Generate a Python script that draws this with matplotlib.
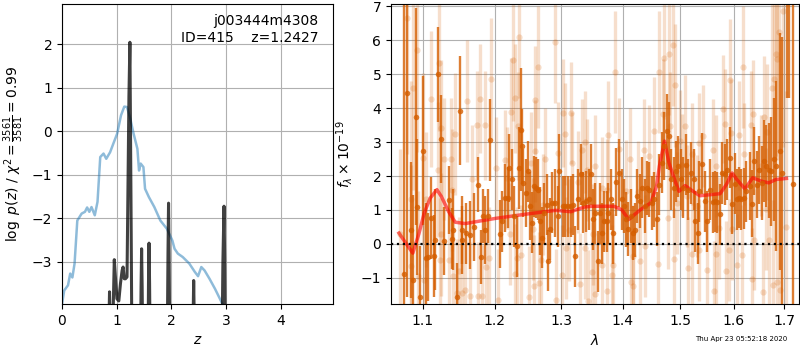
import numpy as np
import matplotlib
matplotlib.use("Agg")
import matplotlib.pyplot as plt

# ---------------- left panel: redshift PDF ----------------
chi2_z = [0.00, 0.04, 0.11, 0.15, 0.19, 0.23, 0.28, 0.36, 0.42, 0.46, 0.50, 0.54, 0.60, 0.65,
          0.70, 0.76, 0.81, 0.88, 0.94, 1.01, 1.08, 1.14, 1.19, 1.25, 1.31, 1.38, 1.41, 1.44,
          1.49, 1.52, 1.59, 1.69, 1.80, 1.92, 2.02, 2.06, 2.12, 2.21, 2.33, 2.43, 2.49, 2.55,
          2.61, 2.70, 2.80, 2.89, 2.94, 3.00]
chi2_logp = [-3.98, -3.66, -3.54, -3.27, -3.36, -3.04, -2.05, -1.89, -1.85, -1.75, -1.85, -1.74,
             -1.93, -1.62, -0.59, -0.51, -0.63, -0.48, -0.28, -0.05, 0.37, 0.57, 0.56, 0.29,
             -0.05, -0.40, -0.90, -0.74, -0.82, -1.32, -1.51, -1.74, -2.05, -2.24, -2.51, -2.70,
             -2.81, -2.89, -3.04, -3.23, -3.33, -3.12, -3.20, -3.39, -3.62, -3.85, -3.98, -4.4]

pdf_z = [0.85, 0.862, 0.870, 0.878, 0.89, 0.93, 0.957, 0.98, 1.005, 1.04, 1.07, 1.10, 1.118,
         1.14, 1.161, 1.19, 1.21, 1.225, 1.2427, 1.262, 1.285,
         1.43, 1.447, 1.457, 1.467, 1.485,
         1.57, 1.583, 1.593, 1.603, 1.62,
         1.92, 1.94, 1.95, 1.96, 1.98,
         2.39, 2.402, 2.41, 2.418, 2.43,
         2.92, 2.945, 2.965, 2.978, 2.995]
pdf_logp = [-6.0, -4.2, -3.69, -4.2, -6.0, -4.5, -2.95, -3.4, -3.85, -3.9, -3.5, -3.2, -3.12,
            -3.39, -3.39, -3.35, -1.0, 0.8, 2.05, -1.5, -6.0,
            -6.0, -3.6, -2.70, -3.6, -6.0,
            -6.0, -3.5, -2.57, -3.5, -6.0,
            -6.0, -2.8, -1.65, -2.8, -6.0,
            -6.0, -4.1, -3.43, -4.1, -6.0,
            -6.0, -3.0, -1.72, -3.0, -6.0]

# ---------------- right panel: spectrum ----------------
dark_wave = [1.076, 1.080, 1.084, 1.087, 1.091, 1.093, 1.097, 1.101, 1.104, 1.107, 1.111, 1.115,
             1.117, 1.121, 1.124, 1.129, 1.135, 1.140, 1.141, 1.146, 1.150, 1.153, 1.154, 1.159,
             1.165, 1.170, 1.176, 1.180, 1.183, 1.186, 1.190, 1.193, 1.207, 1.211, 1.214, 1.219,
             1.221, 1.225, 1.228, 1.232, 1.235, 1.238, 1.240, 1.242, 1.246, 1.249, 1.252, 1.255,
             1.258, 1.261, 1.264, 1.267, 1.270, 1.273, 1.277, 1.280, 1.283, 1.286, 1.290, 1.294,
             1.297, 1.302, 1.306, 1.311, 1.315, 1.319, 1.322, 1.326, 1.331, 1.335, 1.339, 1.344,
             1.347, 1.351, 1.354, 1.358, 1.362, 1.365, 1.369, 1.373, 1.376, 1.380, 1.384, 1.389,
             1.393, 1.398, 1.402, 1.405, 1.409, 1.414, 1.417, 1.421, 1.424, 1.429, 1.433, 1.438,
             1.441, 1.445, 1.450, 1.454, 1.459, 1.463, 1.468, 1.472, 1.476, 1.480, 1.484, 1.489,
             1.493, 1.497, 1.501, 1.505, 1.510, 1.515, 1.520, 1.525, 1.527, 1.532, 1.535, 1.541,
             1.546, 1.550, 1.555, 1.560, 1.565, 1.569, 1.574, 1.578, 1.583, 1.588, 1.593, 1.597,
             1.603, 1.606, 1.611, 1.615, 1.620, 1.624, 1.631, 1.635, 1.640, 1.645, 1.650, 1.655,
             1.660, 1.664, 1.669, 1.673, 1.679, 1.684, 1.691, 1.696, 1.706, 1.711, 1.719]
dark_flux = [-0.88, 4.45, 0.42, -1.05, 3.75, 1.09, -1.55, 2.75, -0.40, -0.38, 0.77, -0.36,
             0.13, 5.00, 3.10, 0.08, 1.30, 0.15, 0.42, -1.55, 3.93, 0.42, 0.12, 0.32,
             0.27, 0.50, 1.75, -0.38, 0.82, 0.42, 0.82, 3.06, 0.28, 0.67, 1.36, 1.36,
             2.24, 1.90, 0.82, -0.07, 2.24, 3.37, 2.88, 1.80, 1.50, 2.14, 1.11, 0.62,
             1.70, 1.65, 1.60, 0.67, 0.18, 0.91, 1.16, -0.49, 0.44, 1.21, 1.21, 0.82,
             2.14, 1.11, 1.11, 1.11, 1.11, 1.16, -0.36, 1.31, 2.05, 1.21, 1.26, 1.31,
             2.05, 0.72, 0.91, -0.51, 0.91, 0.32, 0.67, 0.67, 0.91, 1.31, 0.32, 1.82,
             2.09, 1.31, 1.11, 0.72, 0.44, 0.82, 0.32, 0.42, 1.41, 1.26, 1.65, 1.11,
             1.65, 1.60, 1.21, 1.31, 0.74, 1.75, 2.39, 2.88, 3.32, 3.18, 1.90, 1.65,
             2.14, 2.29, 1.90, 1.65, 2.34, 1.60, 2.09, 1.90, 0.67, 0.32, 1.55, 2.37,
             1.26, 0.67, 1.60, 1.23, 1.26, 1.23, 0.87, 2.09, 2.05, 2.19, 2.54, 1.19,
             1.78, 1.31, 1.36, 1.31, 1.35, 1.55, 1.70, 1.19, 2.44, 1.75, 2.19, 1.80,
             2.44, 2.29, 2.17, 2.14, 2.49, 2.29, 2.73, 2.09, 9.00, 9.50, 1.78]
dark_err = [8.0, 6.0, 2.0, 2.5, 3.2, 2.0, 1.5, 2.2, 1.6, 1.3, 1.2, 1.2,
            1.5, 1.4, 1.3, 1.0, 1.0, 0.9, 1.2, 1.0, 1.6, 1.0, 1.0, 0.9,
            1.0, 1.0, 0.8, 0.8, 0.8, 1.0, 0.8, 1.2, 1.0, 0.9, 1.0, 0.9,
            1.0, 0.9, 0.9, 0.9, 1.2, 1.8, 1.1, 1.0, 1.0, 0.9, 1.0, 0.9,
            0.9, 0.9, 0.9, 1.0, 0.9, 0.9, 0.9, 0.9, 0.9, 0.9, 1.0, 0.9,
            1.1, 0.9, 0.9, 0.9, 0.9, 0.9, 0.9, 0.9, 0.9, 0.9, 0.9, 0.9,
            0.9, 0.9, 0.9, 0.9, 0.9, 0.9, 0.9, 0.9, 0.9, 0.9, 0.9, 1.0,
            1.0, 0.9, 0.8, 0.8, 0.8, 0.8, 0.8, 0.8, 0.8, 0.8, 0.9, 0.8,
            0.8, 0.8, 0.8, 0.8, 0.8, 0.9, 0.9, 1.0, 1.1, 1.0, 0.9, 0.9,
            0.9, 0.9, 0.9, 0.9, 0.9, 0.9, 0.9, 0.9, 0.9, 0.9, 0.9, 0.9,
            0.9, 0.9, 0.9, 0.9, 0.9, 0.9, 0.9, 0.9, 0.9, 0.9, 0.9, 0.9,
            0.9, 0.9, 0.9, 0.9, 0.9, 0.9, 1.0, 1.0, 1.0, 1.0, 1.0, 1.1,
            1.2, 1.2, 1.4, 1.6, 1.8, 2.5, 3.5, 4.0, 4.7, 5.2, 9.0]

light_wave = [1.070, 1.080, 1.084, 1.085, 1.087, 1.093, 1.094, 1.101, 1.102, 1.104, 1.111, 1.120,
              1.122, 1.123, 1.124, 1.125, 1.129, 1.135, 1.138, 1.140, 1.141, 1.144, 1.146, 1.149,
              1.154, 1.158, 1.161, 1.165, 1.167, 1.175, 1.176, 1.178, 1.182, 1.186, 1.187, 1.191,
              1.194, 1.201, 1.204, 1.215, 1.218, 1.222, 1.224, 1.227, 1.229, 1.230, 1.233, 1.234,
              1.235, 1.239, 1.251, 1.254, 1.257, 1.258, 1.259, 1.260, 1.264, 1.266, 1.269, 1.272,
              1.275, 1.290, 1.291, 1.295, 1.301, 1.302, 1.306, 1.307, 1.312, 1.316, 1.317, 1.327,
              1.330, 1.332, 1.337, 1.338, 1.341, 1.342, 1.349, 1.351, 1.353, 1.354, 1.365, 1.366,
              1.373, 1.374, 1.376, 1.381, 1.384, 1.387, 1.393, 1.406, 1.412, 1.414, 1.417, 1.418,
              1.425, 1.429, 1.436, 1.437, 1.445, 1.454, 1.461, 1.463, 1.469, 1.472, 1.478, 1.480,
              1.481, 1.488, 1.489, 1.491, 1.494, 1.500, 1.504, 1.509, 1.512, 1.515, 1.521, 1.522,
              1.530, 1.534, 1.535, 1.542, 1.550, 1.561, 1.562, 1.566, 1.567, 1.572, 1.580, 1.584,
              1.586, 1.591, 1.592, 1.594, 1.597, 1.607, 1.611, 1.617, 1.619, 1.620, 1.634, 1.635,
              1.637, 1.639, 1.654, 1.657, 1.660, 1.664, 1.666, 1.670, 1.676, 1.677, 1.680, 1.683,
              1.685, 1.686, 1.689, 1.692, 1.697, 1.704]
light_flux = [0.30, 6.65, -0.66, 1.31, 4.60, 5.71, -0.95, 2.54, -1.05, 1.31, 4.26, 2.19,
              5.34, -0.46, 0.28, 3.42, 2.51, -0.46, 2.51, 1.60, -0.95, 3.23, -1.45, -0.81,
              -1.45, -1.35, 4.21, -1.54, 1.90, 3.49, -1.54, 4.28, -1.54, 3.49, -0.69, -0.41,
              4.85, 2.24, -1.64, 2.46, 1.95, 0.29, 3.89, 5.41, 4.29, -0.90, -0.41, 3.47,
              6.10, -0.34, -1.57, 2.39, 0.44, -1.25, 4.24, 2.73, 5.22, -1.15, -0.46, 1.16,
              2.51, 5.96, -1.64, 2.68, -0.93, 3.86, 3.23, -0.12, 0.42, 3.86, 2.39, 1.82,
              -1.18, 2.78, 3.01, -0.12, 2.19, -1.69, -0.84, 0.28, 2.31, -1.49, 1.65, -0.61,
              1.60, -1.38, 3.20, -0.93, -0.63, 5.07, 2.80, 1.57, 2.51, -1.13, -0.36, -1.23,
              1.52, -0.51, 2.76, -0.07, 2.60, 3.32, -0.59, 5.07, 3.84, 5.49, 0.77, 5.61,
              3.47, 5.85, -0.43, 4.67, 1.21, 3.03, 2.32, 3.47, 1.41, -0.71, 2.64, -0.29,
              1.11, -0.19, 2.96, 3.18, -0.76, 2.78, -1.40, -0.29, 2.29, 0.47, 3.98, 3.54,
              -0.81, -0.17, 4.82, 3.27, 0.44, -0.63, 3.20, -0.34, 5.22, 2.65, 3.49, -1.03,
              3.82, 0.13, 2.31, -1.43, 3.75, 1.03, 3.29, 0.11, 4.60, -1.20, 4.85, 5.59,
              5.46, -1.13, 6.25, -1.35, 6.86, 0.50]
light_err = [2.5, 4.0, 3.0, 3.5, 3.0, 3.0, 2.5, 2.5, 2.0, 2.0, 2.0, 2.0,
             2.0, 1.8, 1.8, 2.0, 1.8, 1.8, 1.8, 1.8, 1.8, 1.8, 1.6, 1.6,
             1.6, 1.6, 1.8, 1.6, 1.6, 1.6, 1.6, 1.6, 1.5, 1.6, 1.5, 1.5,
             1.8, 1.5, 1.5, 1.5, 1.5, 1.5, 1.6, 1.8, 1.6, 1.5, 1.5, 1.6,
             1.8, 1.5, 1.5, 1.5, 1.5, 1.5, 1.6, 1.5, 1.8, 1.5, 1.5, 1.5,
             1.5, 1.8, 1.5, 1.5, 1.5, 1.6, 1.5, 1.5, 1.5, 1.5, 1.5, 1.5,
             1.5, 1.5, 1.5, 1.5, 1.5, 1.5, 1.5, 1.5, 1.5, 1.5, 1.5, 1.5,
             1.5, 1.5, 1.6, 1.5, 1.5, 1.8, 1.5, 1.5, 1.5, 1.5, 1.5, 1.5,
             1.5, 1.5, 1.5, 1.5, 1.5, 1.6, 1.5, 1.8, 1.6, 1.8, 1.5, 1.8,
             1.6, 1.8, 1.5, 1.8, 1.5, 1.5, 1.5, 1.5, 1.5, 1.5, 1.5, 1.5,
             1.5, 1.5, 1.5, 1.5, 1.5, 1.5, 1.5, 1.5, 1.5, 1.5, 1.6, 1.6,
             1.5, 1.5, 1.8, 1.6, 1.5, 1.5, 1.6, 1.5, 1.8, 1.5, 1.6, 1.5,
             1.6, 1.5, 1.5, 1.5, 1.8, 1.8, 2.0, 2.0, 2.5, 2.5, 2.5, 3.0,
             3.0, 3.0, 3.5, 3.5, 4.0, 4.0]

model_wave = [1.069, 1.078, 1.087, 1.095, 1.102, 1.110, 1.119, 1.125, 1.135, 1.144, 1.158, 1.180,
              1.200, 1.243, 1.291, 1.315, 1.337, 1.349, 1.385, 1.398, 1.410, 1.430, 1.448, 1.458,
              1.463, 1.472, 1.480, 1.491, 1.498, 1.509, 1.521, 1.536, 1.574, 1.586, 1.597, 1.606,
              1.622, 1.637, 1.654, 1.669, 1.684, 1.705]
model_flux = [0.32, 0.02, -0.27, 0.30, 0.91, 1.35, 1.60, 1.40, 0.95, 0.64, 0.60, 0.68,
              0.75, 0.87, 0.99, 0.95, 1.09, 1.11, 1.11, 1.01, 0.72, 1.01, 1.21, 1.70,
              2.29, 3.03, 2.39, 1.85, 1.55, 1.72, 1.58, 1.42, 1.48, 1.75, 2.09, 1.90,
              1.62, 1.95, 1.85, 1.80, 1.90, 1.93]

z_ticks = [0, 1, 2, 3, 4]
logp_ticks = [-3, -2, -1, 0, 1, 2]
wave_ticks = [1.1, 1.2, 1.3, 1.4, 1.5, 1.6, 1.7]
wave_labels = ["1.1", "1.2", "1.3", "1.4", "1.5", "1.6", "1.7"]
flux_ticks = [-1, 0, 1, 2, 3, 4, 5, 6, 7]

label_text = "j003444m4308\nID=415    z=1.2427"
stamp_text = "Thu Apr 23 05:52:18 2020"

G141 = (0.8352941176470589, 0.3686274509803922, 0.0)

fig = plt.figure(figsize=(8, 3.5), dpi=100)
ax1 = fig.add_axes([62/800, 46/350, 271/800, 300/350])
ax2 = fig.add_axes([391/800, 46/350, 408/800, 300/350])

# left panel
ax1.plot(chi2_z, chi2_logp, color=(0.12, 0.47, 0.71), alpha=0.5, lw=1.8)
ax1.plot(pdf_z, pdf_logp, color='k', alpha=0.75, lw=2.2)
ax1.set_xlim(0, 4.96)
ax1.set_ylim(-3.97, 2.93)
ax1.set_xticks(z_ticks)
ax1.set_yticks(logp_ticks)
ax1.grid(True)
ax1.set_xlabel('$z$')
ax1.set_ylabel(r'$\log\ p(z)$ / $\chi^2=\frac{3561}{3581}=0.99$')
ax1.text(0.945, 0.965, label_text, ha='right', va='top', transform=ax1.transAxes, fontsize=10)

# right panel
ax2.errorbar(light_wave, light_flux, yerr=light_err, color=G141, alpha=0.2,
             marker='o', ms=4.5, mew=0, linestyle='None', elinewidth=2.4)
ax2.errorbar(dark_wave, dark_flux, yerr=dark_err, color=G141, alpha=0.8,
             marker='o', ms=4, mew=0, linestyle='None', elinewidth=1.7)
ax2.plot(model_wave, model_flux, color='r', alpha=0.6, lw=2.5)
ax2.axhline(0, color='k', linestyle=':', lw=1.6)
ax2.set_xscale('log')
ax2.set_xlim(1.0588, 1.731)
ax2.set_ylim(-1.77, 7.07)
ax2.set_xticks(wave_ticks, labels=wave_labels)
ax2.set_xticks([], minor=True)
ax2.set_yticks(flux_ticks)
ax2.grid(True)
ax2.set_xlabel(r'$\lambda$')
ax2.set_ylabel(r'$f_\lambda \times 10^{-19}$')

fig.text(0.984, 0.022, stamp_text, ha='right', va='bottom', fontsize=5)

fig.savefig('out.png', dpi=100)
